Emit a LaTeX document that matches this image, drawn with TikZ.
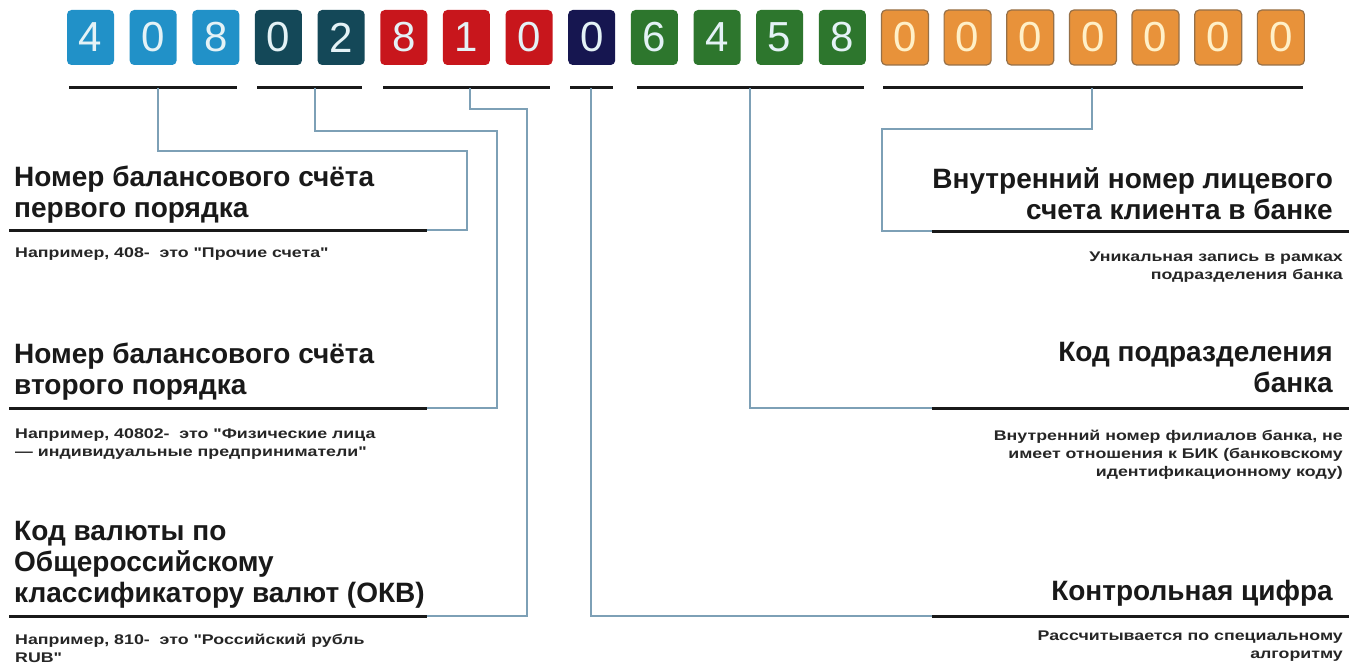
\documentclass[tikz,border=0pt]{standalone}
\usepackage{fontspec}
\setmainfont{Liberation Sans}[Ligatures=TeXOff]
\newfontfamily\subfont{Liberation Sans}[Ligatures=TeXOff, FakeStretch=1.27]
\definecolor{cBlue}{RGB}{33,145,200}
\definecolor{cTeal}{RGB}{20,72,88}
\definecolor{cRed}{RGB}{200,22,28}
\definecolor{cNavy}{RGB}{22,22,80}
\definecolor{cGreen}{RGB}{45,118,45}
\definecolor{cOrange}{RGB}{232,146,58}
\definecolor{cOrangeEdge}{RGB}{150,112,72}
\definecolor{cDigit}{RGB}{228,242,246}
\definecolor{cDigitO}{RGB}{255,240,200}
\definecolor{cLink}{RGB}{125,160,182}
\definecolor{cRule}{RGB}{25,25,25}
\begin{document}
\begin{tikzpicture}[x=1pt,y=-1pt,
  digitbox/.style={rounded corners=4.5pt, minimum width=47pt, minimum height=55pt, inner sep=0pt,
    font=\fontsize{42}{42}\selectfont, text=cDigit},
  rulebar/.style={draw=cRule, line width=3pt},
  link/.style={draw=cLink, line width=1.6pt},
  head/.style={inner sep=0pt, font=\bfseries\fontsize{28}{31}\selectfont, text=black!90},
  sub/.style={inner sep=0pt, font=\subfont\bfseries\fontsize{14}{18}\selectfont, text=black!85}]
\useasboundingbox (0,0) rectangle (1349,666);
\fill[white] (0,0) rectangle (1349,666);
% digit boxes
\foreach \d/\c/\i in {4/cBlue/0,0/cBlue/1,8/cBlue/2,0/cTeal/3,2/cTeal/4,8/cRed/5,1/cRed/6,0/cRed/7,0/cNavy/8,6/cGreen/9,4/cGreen/10,5/cGreen/11,8/cGreen/12}
  \node[digitbox, fill=\c] (d\i) at ({90.5+62.65*\i},37.5) {\d};
\foreach \i in {13,...,19}
  \node[digitbox, fill=cOrange, draw=cOrangeEdge, line width=1.2pt, text=cDigitO] (d\i) at ({90.5+62.65*\i},37.5) {0};
% underline bars below digit groups
\coordinate (b1a) at (69,88);  \coordinate (b1b) at (237,88);
\coordinate (b2a) at (257,88); \coordinate (b2b) at (362,88);
\coordinate (b3a) at (383,88); \coordinate (b3b) at (550,88);
\coordinate (b4a) at (570,88); \coordinate (b4b) at (613,88);
\coordinate (b5a) at (637,88); \coordinate (b5b) at (864,88);
\coordinate (b6a) at (883,88); \coordinate (b6b) at (1303,88);
\foreach \k in {1,...,6} \draw[rulebar] (b\k a) -- (b\k b);
% link start points
\coordinate (s1) at (158,88);
\coordinate (s2) at (315,88);
\coordinate (s3) at (470,88);
\coordinate (s4) at (591,88);
\coordinate (s5) at (750,88);
\coordinate (s6) at (1092,88);
% heading rules
\coordinate (L1a) at (9,230);  \coordinate (L1b) at (427,230);
\coordinate (L2a) at (9,408);  \coordinate (L2b) at (427,408);
\coordinate (L3a) at (9,616);  \coordinate (L3b) at (427,616);
\coordinate (R1a) at (932,231); \coordinate (R1b) at (1349,231);
\coordinate (R2a) at (932,408); \coordinate (R2b) at (1349,408);
\coordinate (R3a) at (932,616); \coordinate (R3b) at (1349,616);
% links
\draw[link] (s1) -- (158,151) -- (467,151) -- (467,230) -- (L1b);
\draw[link] (s2) -- (315,131) -- (497,131) -- (497,408) -- (L2b);
\draw[link] (s3) -- (470,109) -- (527,109) -- (527,616) -- (L3b);
\draw[link] (s4) -- (591,616) -- (R3a);
\draw[link] (s5) -- (750,408) -- (R2a);
\draw[link] (s6) -- (1092,129) -- (882,129) -- (882,231) -- (R1a);
\foreach \r in {L1,L2,L3,R1,R2,R3} \draw[rulebar] (\r a) -- (\r b);
% left texts (base anchor = baseline of the last line)
\node[head, anchor=base west, align=left] (h1) at (14,217) {Номер балансового счёта\\первого порядка};
\node[sub, anchor=base west, align=left] (t1) at (15,257) {Например, 408-~ это "Прочие счета"};
\node[head, anchor=base west, align=left] (h2) at (14,394) {Номер балансового счёта\\второго порядка};
\node[sub, anchor=base west, align=left] (t2) at (15,456) {Например, 40802-~ это "Физические лица\\— индивидуальные предприниматели"};
\node[head, anchor=base west, align=left] (h3) at (14,602) {Код валюты по\\Общероссийскому\\классификатору валют (ОКВ)};
\node[sub, anchor=base west, align=left] (t3) at (15,662) {Например, 810-~ это "Российский рубль\\RUB"};
% right texts
\node[head, anchor=base east, align=right] (h4) at (1333,219) {Внутренний номер лицевого\\счета клиента в банке};
\node[sub, anchor=base east, align=right] (t4) at (1343,279) {Уникальная запись в рамках\\подразделения банка};
\node[head, anchor=base east, align=right] (h5) at (1333,392) {Код подразделения\\банка};
\node[sub, anchor=base east, align=right] (t5) at (1343,476) {Внутренний номер филиалов банка, не\\имеет отношения к БИК (банковскому\\идентификационному коду)};
\node[head, anchor=base east, align=right] (h6) at (1333,600) {Контрольная цифра};
\node[sub, anchor=base east, align=right] (t6) at (1343,658) {Рассчитывается по специальному\\алгоритму};
\end{tikzpicture}
\end{document}
